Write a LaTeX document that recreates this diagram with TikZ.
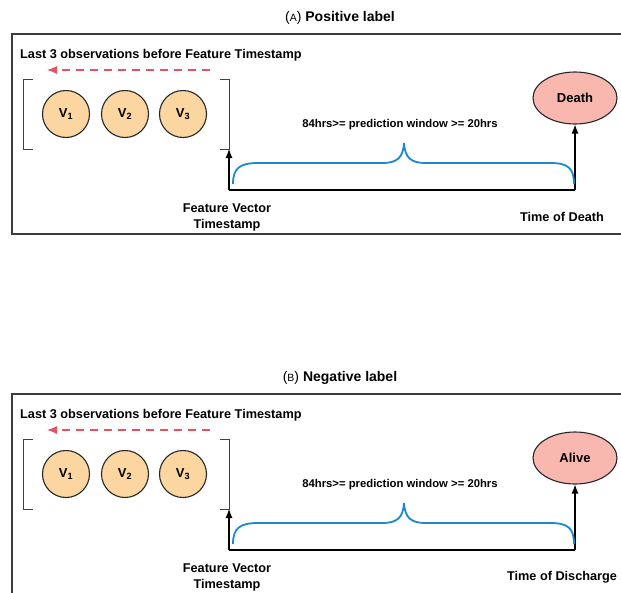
\documentclass[tikz,border=0pt]{standalone}
\usepackage{fontspec}
\setmainfont{Liberation Sans}
\usetikzlibrary{shapes.geometric,arrows.meta}

\definecolor{pessego}{RGB}{252,214,160}
\definecolor{salmao}{RGB}{248,184,176}
\definecolor{azulchave}{RGB}{30,136,206}
\definecolor{vermelho}{RGB}{228,84,98}
\definecolor{moldura}{RGB}{60,60,60}

\begin{document}
\begin{tikzpicture}[x=1pt, y=-1pt,
    obs/.style={circle, draw=black!85, line width=1.1pt, fill=pessego, minimum size=47pt, inner sep=0pt, font=\fontsize{13}{14}\selectfont\bfseries},
    desfecho/.style={ellipse, draw=black!85, line width=1.1pt, fill=salmao, minimum width=84pt, minimum height=52pt, inner sep=0pt, font=\fontsize{13}{14}\selectfont\bfseries},
    rotulo/.style={font=\fontsize{12.7}{16}\selectfont\bfseries, align=center, inner sep=0pt},
    seta/.style={-{Latex[length=9pt,width=7pt]}, line width=1.1pt}]

    \clip (0,0) rectangle (621,592);
    \fill[white] (0,0) rectangle (621,592);

    \foreach \dy/\letra/\tipo/\fim/\tempo in {0/A/Positive/Death/Time of Death, 360/B/Negative/Alive/Time of Discharge} {
    \begin{scope}[shift={(0,\dy)}]

    % Título e moldura
    \node[inner sep=0pt] (titulo\letra) at (340,18) {\fontsize{14}{16}\selectfont({\fontsize{10.5}{12}\selectfont\letra}) \textbf{\tipo{} label}};
    \draw[moldura, line width=1.3pt] (12,34) rectangle (640,234);

    % Janela de observações
    \node[rotulo, anchor=west] (obstexto\letra) at (20,55) {Last 3 observations before Feature Timestamp};
    \coordinate (setaini\letra) at (210,70);
    \coordinate (setafim\letra) at (47,70);
    \draw[vermelho, line width=1.1pt, dash pattern=on 8pt off 6pt, -{Latex[length=10pt,width=8pt]}] (setaini\letra) -- (setafim\letra);

    \node[obs] (v1\letra) at (66,114) {V\textsubscript{1}};
    \node[obs] (v2\letra) at (125,114) {V\textsubscript{2}};
    \node[obs] (v3\letra) at (183,114) {V\textsubscript{3}};

    % Colchetes
    \draw[black!75, line width=0.9pt] (33,79) -- (23,79) -- (23,149) -- (33,149);
    \draw[black!75, line width=0.9pt] (220,79) -- (229,79) -- (229,149) -- (220,149);
    \coordinate (colch\letra) at (229,149);

    % Linha do tempo
    \coordinate (fv\letra) at (229,190);
    \coordinate (td\letra) at (575,190);
    \node[desfecho] (fim\letra) at (575,98) {\fim};
    \draw[line width=1.1pt] (fv\letra) -- (td\letra);
    \draw[seta] (fv\letra) -- (colch\letra);
    \draw[seta] (td\letra) -- (fim\letra.south);

    % Chave da janela de predição
    \draw[azulchave, line width=1.8pt] (233,184) .. controls (233,168) and (240,163) .. (258,163) -- (382,163)
        .. controls (397,163) and (403,158) .. (404,143) .. controls (405,158) and (411,163) .. (426,163)
        -- (550,163) .. controls (568,163) and (574,168) .. (574,184);
    \node[rotulo, font=\fontsize{11.3}{13}\selectfont\bfseries] (janela\letra) at (400,125) {84hrs>= prediction window >= 20hrs};

    % Rótulos
    \node[rotulo] (fvtexto\letra) at (227,217) {Feature Vector\\Timestamp};
    \node[rotulo] (tdtexto\letra) at (562,217) {\tempo};
    \end{scope}
    }

\end{tikzpicture}
\end{document}
